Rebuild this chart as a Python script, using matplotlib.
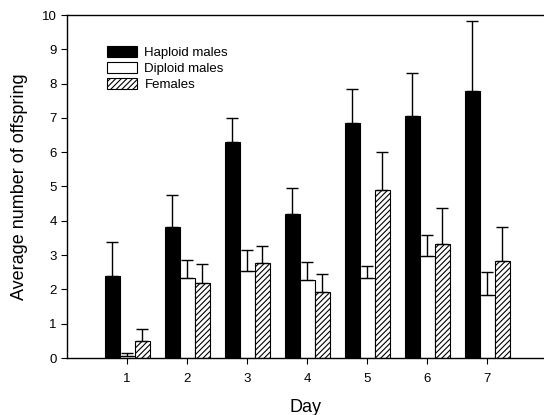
import matplotlib
matplotlib.use("Agg")
import matplotlib.pyplot as plt
import numpy as np

plt.rcParams['font.family'] = ['Liberation Sans', 'DejaVu Sans']
plt.rcParams['hatch.linewidth'] = 0.8

days = [1, 2, 3, 4, 5, 6, 7]
haploid = [2.4, 3.82, 6.3, 4.19, 6.84, 7.05, 7.77]
haploid_err = [0.98, 0.93, 0.7, 0.76, 1.01, 1.27, 2.05]
diploid = [0.07, 2.33, 2.55, 2.27, 2.33, 2.97, 1.84]
diploid_err = [0.07, 0.53, 0.6, 0.52, 0.36, 0.61, 0.66]
females = [0.49, 2.2, 2.77, 1.93, 4.9, 3.32, 2.84]
females_err = [0.37, 0.55, 0.5, 0.53, 1.12, 1.06, 0.98]

fig = plt.figure(figsize=(5.44, 4.15), dpi=100)
ax = fig.add_axes([67 / 544, 57 / 415, 477 / 544, 343 / 415])

x = np.array(days, dtype=float)
w = 0.25
ekw = dict(elinewidth=1, capthick=1, ecolor='black')
zeros = np.zeros(len(days))
ax.bar(x - w, haploid, w, color='black', edgecolor='black', linewidth=0.8,
       yerr=[zeros, haploid_err], capsize=4, error_kw=ekw, label='Haploid males')
ax.bar(x, diploid, w, color='white', edgecolor='black', linewidth=0.8,
       yerr=[zeros, diploid_err], capsize=4, error_kw=ekw, label='Diploid males')
ax.bar(x + w, females, w, color='white', edgecolor='black', linewidth=0.8, hatch='//////',
       yerr=[zeros, females_err], capsize=4, error_kw=ekw, label='Females')

ax.set_xlim(0, 7.95)
ax.set_ylim(0, 10)
ax.set_xticks(days)
ax.set_yticks(range(0, 11))
ax.tick_params(axis='both', direction='out', length=4, width=0.8, labelsize=9.5)
ax.tick_params(axis='x', pad=7)
ax.spines['right'].set_visible(False)
for s in ['left', 'bottom', 'top']:
    ax.spines[s].set_linewidth(1)

ax.set_xlabel('Day', fontsize=13, labelpad=10)
ax.set_ylabel('Average number of offspring', fontsize=13, labelpad=10)

ax.legend(loc='upper left', bbox_to_anchor=(0.06, 0.945), frameon=False, fontsize=9.5,
          handlelength=2.2, handleheight=0.9, labelspacing=0.25, handletextpad=0.6)

fig.savefig('out.png', dpi=100)
